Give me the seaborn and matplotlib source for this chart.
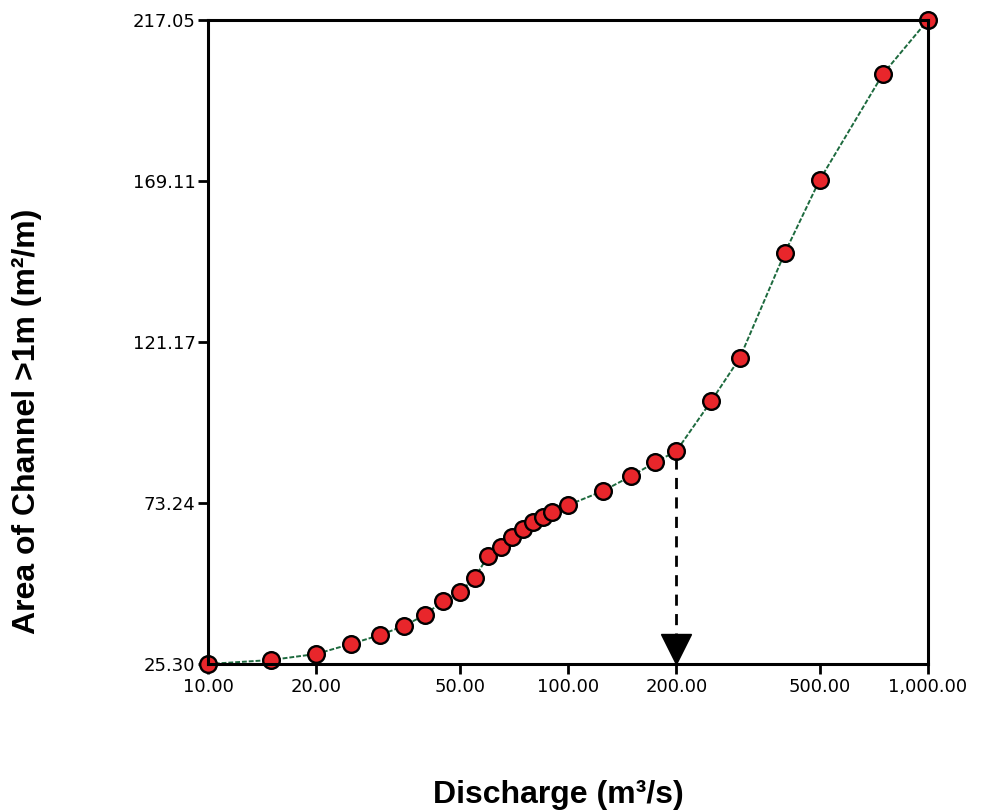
import matplotlib
matplotlib.use("Agg")
import matplotlib.pyplot as plt
import matplotlib.ticker as mticker
import seaborn as sns
import pandas as pd

# Data
discharge = [10, 15, 20, 25, 30, 35, 40, 45, 50, 55, 60, 65, 70, 75, 80, 85, 90,
             100, 125, 150, 175, 200, 250, 300, 400, 500, 750, 1000]
area = [25.30, 26.5, 28.3, 31.3, 33.9, 36.6, 39.9, 44.1, 46.7, 50.9, 57.5, 60.1,
        63.1, 65.5, 67.6, 69.1, 70.6, 72.6, 76.8, 81.3, 85.4, 88.7, 103.6, 116.4,
        147.7, 169.4, 201.0, 217.05]
x_ticks = [10, 20, 50, 100, 200, 500, 1000]
y_ticks = [25.30, 73.24, 121.17, 169.11, 217.05]
marked_q = 200
marked_a = 88.7

sns.set_style("white")
plt.rcParams["font.family"] = ["DejaVu Sans"]
plt.rcParams["text.color"] = "black"
plt.rcParams["axes.labelcolor"] = "black"
plt.rcParams["xtick.color"] = "black"
plt.rcParams["ytick.color"] = "black"

df = pd.DataFrame({"Q": discharge, "A": area})

fig = plt.figure(figsize=(9.84, 8.10), dpi=100)
ax = fig.add_axes([208 / 984, 1 - 664 / 810, 720 / 984, 644 / 810])

sns.lineplot(data=df, x="Q", y="A", ax=ax, color="#1d6a3e", linewidth=1.4,
             marker="o", markersize=12, markerfacecolor="#e8262b",
             markeredgecolor="black", markeredgewidth=1.7, clip_on=False,
             sort=False)
for ln in ax.lines:
    ln.set_linestyle((0, (2.5, 1)))

ax.set_xscale("log")
ax.set_xlim(10, 1000)
ax.set_ylim(25.30, 217.05)
ax.xaxis.set_major_locator(mticker.FixedLocator(x_ticks))
ax.xaxis.set_minor_locator(mticker.NullLocator())
ax.xaxis.set_major_formatter(mticker.FuncFormatter(lambda v, p: f"{v:,.2f}"))
ax.yaxis.set_major_locator(mticker.FixedLocator(y_ticks))
ax.yaxis.set_major_formatter(mticker.FuncFormatter(lambda v, p: f"{v:.2f}"))

# dashed arrow from marked point down to axis
ax.plot([marked_q, marked_q], [marked_a - 2.2, 33.5], color="black",
        linewidth=2, linestyle=(0, (4, 3)))
ax.plot([marked_q], [29.9], marker="v", markersize=22, color="black",
        linestyle="none", clip_on=False)

for s in ax.spines.values():
    s.set_visible(True)
    s.set_color("black")
    s.set_linewidth(2.2)

ax.tick_params(axis="both", which="major", direction="out", length=7,
               width=2, labelsize=13, color="black", labelcolor="black",
               top=False, right=False, bottom=True, left=True)
ax.tick_params(axis="x", pad=3)
ax.tick_params(axis="y", pad=2)
ax.set_xlabel("")
ax.set_ylabel("")

fig.text(558 / 984, 1 - 795 / 810, "Discharge (m³/s)", ha="center", va="center",
         fontsize=23, fontweight="bold", color="black",
         family=["Liberation Sans", "DejaVu Sans"])
fig.text(27 / 984, 1 - 421 / 810, "Area of Channel >1m (m²/m)", ha="center",
         va="center", rotation=90, fontsize=23, fontweight="bold", color="black",
         family=["Liberation Sans", "DejaVu Sans"])

fig.savefig("out.png", dpi=100)
